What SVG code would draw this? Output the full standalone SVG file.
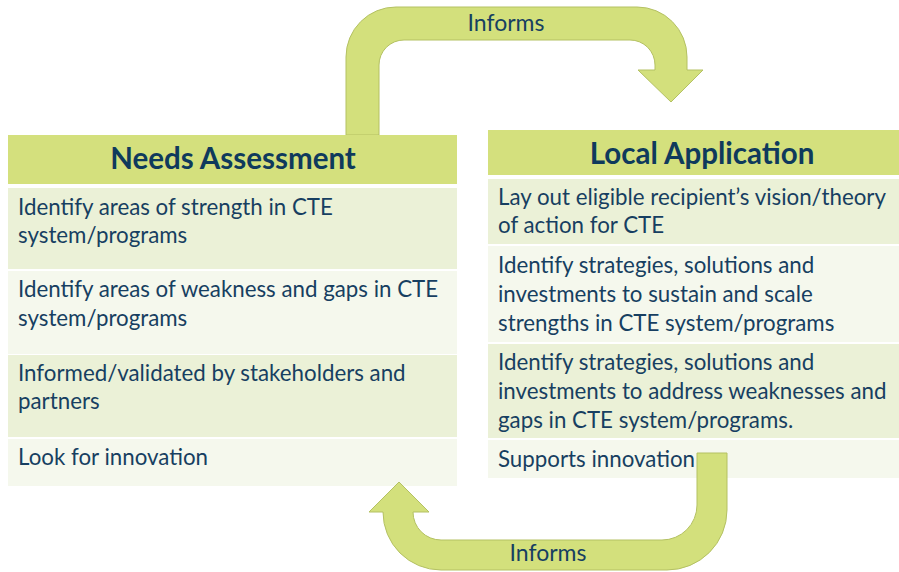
<svg xmlns="http://www.w3.org/2000/svg" width="899" height="572" viewBox="0 0 899 572">
<style>
.hdr{fill:#d4e07d}
.r1{fill:#ebf1d7}
.r2{fill:#f5f8ed}
.t{font-family:Lato,"Liberation Sans",sans-serif;font-size:22.3px;fill:#173f61}
.h{font-family:Lato,"Liberation Sans",sans-serif;font-size:29.5px;font-weight:bold;fill:#0f3a5c;text-anchor:middle}
.arrow{fill:#d3e07c;stroke:#b4c163;stroke-width:1}
.lbl{font-family:Lato,"Liberation Sans",sans-serif;font-size:23px;fill:#173f61;text-anchor:middle}
</style>
<rect width="899" height="572" fill="#ffffff"/>
<g id="connectors">
<path class="arrow" d="M346,135 L346,57 A50,50 0 0 1 396,7 L637,7 A50,50 0 0 1 687,57 L687,70 L703,70 L671,102 L638,70 L655,70 L655,65 A25,25 0 0 0 630,40 L404,40 A25,25 0 0 0 379,65 L379,135 Z"/>
<text class="lbl" x="506" y="31">Informs</text>
</g>
<g id="needs-assessment">
<rect class="hdr" x="8" y="135" width="449" height="49"/>
<text class="h" x="233" y="169">Needs Assessment</text>
<rect class="r1" x="8" y="188" width="449" height="81"/>
<text class="t" x="18" y="215">Identify areas of strength in CTE</text>
<text class="t" x="18" y="243">system/programs</text>
<rect class="r2" x="8" y="271" width="449" height="83"/>
<text class="t" x="18" y="297">Identify areas of weakness and gaps in CTE</text>
<text class="t" x="18" y="326">system/programs</text>
<rect class="r1" x="8" y="355" width="449" height="82"/>
<text class="t" x="18" y="381">Informed/validated by stakeholders and</text>
<text class="t" x="18" y="409">partners</text>
<rect class="r2" x="8" y="439" width="449" height="47"/>
<text class="t" x="18" y="465">Look for innovation</text>
</g>
<g id="local-application">
<rect class="hdr" x="488" y="130" width="411" height="45"/>
<text class="h" x="702" y="164">Local Application</text>
<rect class="r1" x="488" y="179" width="411" height="65"/>
<text class="t" x="498" y="205">Lay out eligible recipient’s vision/theory</text>
<text class="t" x="498" y="233">of action for CTE</text>
<rect class="r2" x="488" y="246" width="411" height="96"/>
<text class="t" x="498" y="273">Identify strategies, solutions and</text>
<text class="t" x="498" y="302">investments to sustain and scale</text>
<text class="t" x="498" y="331">strengths in CTE system/programs</text>
<rect class="r1" x="488" y="344" width="411" height="94"/>
<text class="t" x="498" y="370">Identify strategies, solutions and</text>
<text class="t" x="498" y="399">investments to address weaknesses and</text>
<text class="t" x="498" y="428">gaps in CTE system/programs.</text>
<rect class="r2" x="488" y="440" width="411" height="38"/>
<text class="t" x="498" y="467">Supports innovation</text>
</g>
<g id="connectors-bottom">
<path class="arrow" d="M697,453 L697,505 A35,35 0 0 1 662,540 L441,540 A28,28 0 0 1 413,512 L429,512 L399,482 L369,512 L383,512 A58,58 0 0 0 441,570 L667,570 A60,60 0 0 0 727,510 L727,453 Z"/>
<text class="lbl" x="548" y="561">Informs</text>
</g>
</svg>
